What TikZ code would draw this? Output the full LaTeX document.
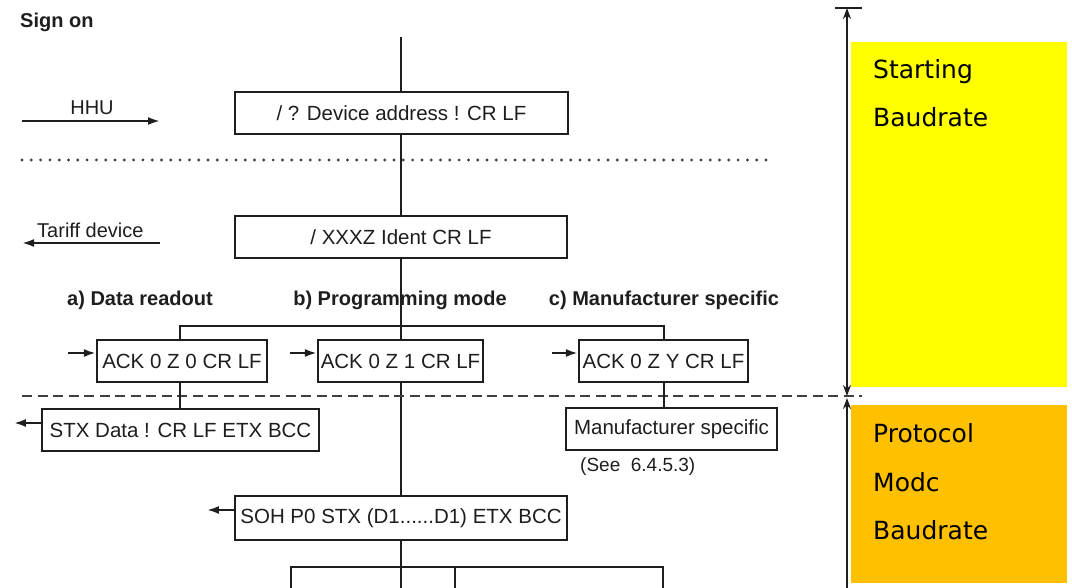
\documentclass[tikz,border=0pt]{standalone}
\usepackage{fontspec}
\setmainfont{Liberation Sans}
\newfontfamily\bandfont{DejaVu Sans}
\usepackage{xcolor}
\usepackage{tikz}
\usetikzlibrary{arrows.meta}
\definecolor{startyellow}{HTML}{FFFF00}
\definecolor{protoorange}{HTML}{FFC000}
\definecolor{ink}{HTML}{1E1E1E}

\begin{document}
\begin{tikzpicture}[x=1pt, y=-1pt,
    msg/.style={draw=ink, line width=2.2pt, fill=white, inner sep=0pt, minimum height=42pt, text=ink, font=\fontsize{20.5}{24}\selectfont},
    lbl/.style={font=\fontsize{20}{24}\selectfont\bfseries, text=ink, inner sep=0pt},
    txt/.style={font=\fontsize{20}{24}\selectfont, text=ink, inner sep=0pt},
    wire/.style={draw=ink, line width=2.2pt},
    tip/.style={wire, -{Latex[length=12pt,width=8pt]}},
    dimtip/.style={draw=ink, line width=1.8pt},
    band/.style={font=\bandfont\fontsize{25}{30}\selectfont, anchor=base west, inner sep=0pt}]
  \useasboundingbox (0,0) rectangle (1072,588);

  % Baudrate bands
  \node[fill=startyellow, minimum width=216pt, minimum height=345pt, anchor=north west, inner sep=0pt] (startBand) at (851,42) {};
  \node[fill=protoorange, minimum width=216pt, minimum height=178pt, anchor=north west, inner sep=0pt] (protoBand) at (851,405) {};
  \node[band] (startL1) at (873,79) {Starting};
  \node[band] (startL2) at (873,127) {Baudrate};
  \node[band] (protoL1) at (873,442) {Protocol};
  \node[band] (protoL2) at (873,491) {Modc};
  \node[band] (protoL3) at (873,539) {Baudrate};

  % Main line, the boxes cover it
  \coordinate (lineTop) at (401,37);
  \coordinate (lineEnd) at (401,588);
  \draw[wire] (lineTop) -- (lineEnd);

  % Sign on
  \node[lbl, anchor=west] (signon) at (20,22) {Sign on};

  \node[msg, minimum width=333pt] (sendReq) at (401.5,113) {/ ? Device address ! CR LF};
  \node[txt] (hhu) at (92,108) {HHU};
  \coordinate (hhuFrom) at (22,121);
  \coordinate (hhuTo) at (160,121);
  \draw[tip] (hhuFrom) -- (hhuTo);

  \coordinate (dotL) at (22,160);
  \coordinate (dotR) at (770,160);
  \draw[ink!85, line width=3.2pt, line cap=round, dash pattern=on 0pt off 9.3pt] (dotL) -- (dotR);

  \node[msg, minimum width=332pt] (ident) at (401,237) {/ XXXZ Ident CR LF};
  \node[txt, anchor=west] (tariff) at (37,230) {Tariff device};
  \coordinate (tarFrom) at (160,243);
  \coordinate (tarTo) at (22,243);
  \draw[tip] (tarFrom) -- (tarTo);

  % Modes
  \node[lbl] (labA) at (140,300) {a) Data readout};
  \node[lbl] (labB) at (400,300) {b) Programming mode};
  \node[lbl] (labC) at (664,300) {c) Manufacturer specific};

  \node[msg, minimum width=170pt, minimum height=42pt] (ackA) at (182,361) {ACK 0 Z 0 CR LF};
  \node[msg, minimum width=165pt, minimum height=42pt] (ackB) at (400.5,361) {ACK 0 Z 1 CR LF};
  \node[msg, minimum width=169pt, minimum height=42pt] (ackC) at (663.5,361) {ACK 0 Z Y CR LF};
  \coordinate (inA) at (68,353);
  \coordinate (inB) at (290,353);
  \coordinate (inC) at (552,353);
  \draw[tip] (inA) -- (inA -| ackA.west);
  \draw[tip] (inB) -- (inB -| ackB.west);
  \draw[tip] (inC) -- (inC -| ackC.west);
  \coordinate (branchA) at (180,326);
  \coordinate (branchC) at (664,326);
  \draw[wire] (ackA.north -| branchA) -- (branchA) -- (branchC) -- (branchC |- ackC.north);

  % Baudrate change
  \coordinate (splitL) at (22,396);
  \coordinate (splitR) at (862,396);
  \draw[ink!85, line width=2.6pt, dash pattern=on 10pt off 5.5pt] (splitL) -- (splitR);

  \node[msg, minimum width=277pt, minimum height=42pt] (stx) at (180.5,430) {STX Data ! CR LF ETX BCC};
  \node[msg, minimum width=211pt] (manu) at (671.5,429) {Manufacturer specific};
  \node[txt, anchor=west, font=\fontsize{19}{22}\selectfont] (see) at (580,467) {(See\ \ 6.4.5.3)};
  \node[msg, minimum width=332pt, minimum height=44pt] (soh) at (401,518) {SOH P0 STX (D1......D1) ETX BCC};
  \draw[wire] (ackA.south -| branchA) -- (branchA |- stx.north);
  \draw[wire] (ackC.south -| branchC) -- (branchC |- manu.north);
  \draw[tip] ([yshift=7pt]stx.west) -- ++(-27,0);
  \draw[tip] ([yshift=8pt]soh.west) -- ++(-27,0);

  % Fork at the bottom
  \coordinate (fork) at (401,567);
  \coordinate (outA) at (291,588);
  \coordinate (outC) at (455,588);
  \coordinate (outD) at (663,588);
  \draw[wire] (outA) |- (fork) -| (outD);
  \draw[wire] (outC) -- (outC |- fork);

  % Baudrate ranges
  \coordinate (dimTop) at (847,8);
  \coordinate (dimMid) at (847,396);
  \coordinate (dimBot) at (847,588);
  \draw[dimtip] ([xshift=-12pt]dimTop) -- ([xshift=15pt]dimTop);
  \draw[dimtip, {Stealth[length=11pt,width=8pt]}-{Stealth[length=11pt,width=8pt]}] (dimTop) -- (dimMid);
  \draw[dimtip, {Stealth[length=11pt,width=8pt]}-] ([yshift=-2pt]dimMid) -- (dimBot);
\end{tikzpicture}
\end{document}
